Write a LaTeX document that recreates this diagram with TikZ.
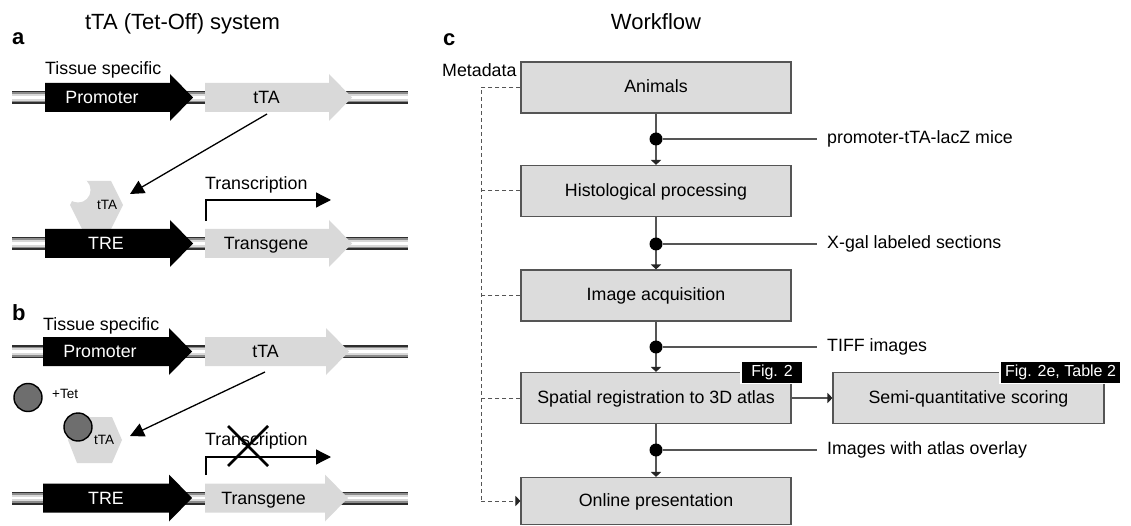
\documentclass[tikz,border=0pt]{standalone}
\usepackage{fontspec}
\setmainfont{Liberation Sans}
\usetikzlibrary{arrows.meta}

\definecolor{genegray}{HTML}{D9D9D9}
\definecolor{boxfill}{HTML}{DCDCDC}
\definecolor{linegray}{HTML}{555555}
\definecolor{tetgray}{HTML}{6E6E6E}

% striped DNA strand from x=#1 to x=#2 at height #3
\newcommand{\dnastrand}[3]{%
  \draw[line width=13pt, black!82] (#1,#3) -- (#2,#3);
  \draw[line width=10pt, black!45] (#1,#3) -- (#2,#3);
  \draw[line width=6.5pt, black!15] (#1,#3) -- (#2,#3);
  \draw[line width=2.5pt, white] (#1,#3) -- (#2,#3);
}
% block arrow for a genetic element: tail x=#1, tip x=#2, axis y=#3, colour #4
\newcommand{\genearrow}[4]{%
  \fill[#4] (#1,{#3-14.5}) -- ({#2-23},{#3-14.5}) -- ({#2-23},{#3-23.5})
    -- (#2,#3) -- ({#2-23},{#3+23.5}) -- ({#2-23},{#3+14.5})
    -- (#1,{#3+14.5}) -- cycle;
}

\tikzset{
  txt/.style={font=\fontsize{17.8}{20}\selectfont, inner sep=0pt},
  small/.style={font=\fontsize{13.5}{15}\selectfont, inner sep=0pt},
  title/.style={font=\fontsize{22}{24}\selectfont, inner sep=0pt},
  panel/.style={font=\fontsize{22}{24}\selectfont\bfseries, inner sep=0pt},
  bigarrow/.style={draw=black, line width=1.3pt, -{Triangle[length=14pt,width=14pt]}},
  stage/.style={draw=linegray, line width=1.1pt, fill=boxfill, minimum width=270pt,
    minimum height=51pt, font=\fontsize{17.8}{20}\selectfont, text height=13pt,
    text depth=2pt, inner sep=0pt},
  joint/.style={circle, fill=black, minimum size=13pt, inner sep=0pt},
  flow/.style={draw=linegray, line width=1.2pt, -{Triangle[length=5pt,width=10pt,color=black!85]}},
  feed/.style={draw=linegray, line width=1.2pt},
  note/.style={anchor=west, inner xsep=10pt, inner ysep=0pt, font=\fontsize{17.8}{20}\selectfont,
    text height=12pt, text depth=2.5pt},
  tag/.style={fill=black, draw=white, line width=1.5pt, text=white,
    font=\fontsize{16}{18}\selectfont, minimum height=22pt, inner sep=0pt,
    text height=11.5pt, text depth=3pt},
  meta/.style={draw=linegray, line width=1pt, dash pattern=on 4pt off 3pt},
}

\begin{document}
\begin{tikzpicture}[x=1pt, y=-1pt]
\useasboundingbox (0,0) rectangle (1131,526);

% ---------------- panel a ----------------
\node[title, anchor=base] (ttitle) at (182.5,30) {tTA (Tet-Off) system};
\node[panel, anchor=base west] (pa) at (12,45) {a};

\dnastrand{12}{408}{97.5}
\genearrow{45}{193}{97.5}{black}
\genearrow{205}{352}{97.5}{genegray}
\node[txt, anchor=base west] (tsa) at (45,75) {Tissue specific};
\node[txt, anchor=base, text=white] (proa) at (102,103.5) {Promoter};
\node[txt, anchor=base] (tta) at (266.5,103.5) {tTA};

% tTA protein with free binding site
\fill[genegray] (70,205) -- (82,181) -- (111,181) -- (123,205) -- (111,229) -- (82,229) -- cycle;
\fill[white] (78,190) circle[radius=12.5pt];
\node[small, anchor=base] (hexa) at (107,210) {tTA};

\coordinate (fromtta) at (267,114);
\coordinate (tohexa) at (130,194);
\draw[bigarrow] (fromtta) -- (tohexa);

\dnastrand{12}{408}{243.5}
\genearrow{45}{193}{243.5}{black}
\genearrow{205}{352}{243.5}{genegray}
\node[txt, anchor=base, text=white] (trea) at (106,249.5) {TRE};
\node[txt, anchor=base] (tga) at (266,249.5) {Transgene};

\node[txt, anchor=base west] (trna) at (205,190) {Transcription};
\coordinate (tra0) at (206,221);
\coordinate (tra1) at (206,200);
\coordinate (tra2) at (331,200);
\draw[bigarrow, -{Triangle[length=15pt,width=15pt]}] (tra0) -- (tra1) -- (tra2);

% ---------------- panel b ----------------
\node[panel, anchor=base west] (pb) at (12,320) {b};

\dnastrand{12}{408}{351.5}
\genearrow{43}{192}{351.5}{black}
\genearrow{205}{349}{351.5}{genegray}
\node[txt, anchor=base west] (tsb) at (43,330) {Tissue specific};
\node[txt, anchor=base, text=white] (prob) at (100,357.5) {Promoter};
\node[txt, anchor=base] (ttb) at (265.5,357.5) {tTA};

% free tetracycline
\filldraw[fill=tetgray, draw=black, line width=1.4pt] (28,397.5) circle[radius=14pt];
\node[small, anchor=base west] (tet) at (52,398) {+Tet};

% tTA protein blocked by tetracycline
\fill[genegray] (68,440) -- (77,417) -- (112,417) -- (122,440) -- (112,463) -- (77,463) -- cycle;
\filldraw[fill=tetgray, draw=black, line width=1.4pt] (78,427) circle[radius=14pt];
\node[small, anchor=base] (hexb) at (104,444) {tTA};

\coordinate (fromttb) at (265,372);
\coordinate (tohexb) at (130,436);
\draw[bigarrow] (fromttb) -- (tohexb);

\dnastrand{12}{408}{498}
\genearrow{43}{192}{498}{black}
\genearrow{205}{348}{498}{genegray}
\node[txt, anchor=base, text=white] (treb) at (106,504) {TRE};
\node[txt, anchor=base] (tgb) at (263.5,504) {Transgene};

\node[txt, anchor=base west] (trnb) at (205,445) {Transcription};
\coordinate (trb0) at (206,475);
\coordinate (trb1) at (206,457);
\coordinate (trb2) at (331,457);
\draw[bigarrow, -{Triangle[length=15pt,width=15pt]}] (trb0) -- (trb1) -- (trb2);
\coordinate (xa) at (228,426);
\coordinate (xb) at (268,466);
\coordinate (xc) at (268,426);
\coordinate (xd) at (228,466);
\draw[line width=2.6pt] (xa) -- (xb);
\draw[line width=2.6pt] (xc) -- (xd);

% ---------------- panel c ----------------
\node[title, anchor=base] (wtitle) at (656,30) {Workflow};
\node[panel, anchor=base west] (pc) at (443,46) {c};
\node[txt, anchor=base west] (meta) at (442,77) {Metadata};

\node[stage] (s1) at (656,87.5) {Animals};
\node[stage] (s2) at (656,191) {Histological processing};
\node[stage] (s3) at (656,295.5) {Image acquisition};
\node[stage] (s4) at (656,398) {Spatial registration to 3D atlas};
\node[stage, minimum height=47pt] (s5) at (656,501) {Online presentation};
\node[stage, minimum width=271pt] (s6) at (968.5,398) {Semi-quantitative scoring};

\draw[flow] (s1) -- (s2);
\draw[flow] (s2) -- (s3);
\draw[flow] (s3) -- (s4);
\draw[flow] (s4) -- (s5);
\draw[flow] (s4) -- (s6);

\node[joint] (j1) at (656,139) {};
\node[joint] (j2) at (656,244) {};
\node[joint] (j3) at (656,347) {};
\node[joint] (j4) at (656,450) {};

\node[note] (n1) at (817,139) {promoter-tTA-lacZ mice};
\node[note] (n2) at (817,244) {X-gal labeled sections};
\node[note] (n3) at (817,347) {TIFF images};
\node[note] (n4) at (817,450) {Images with atlas overlay};
\draw[feed] (j1) -- (n1);
\draw[feed] (j2) -- (n2);
\draw[feed] (j3) -- (n3);
\draw[feed] (j4) -- (n4);

\node[tag, minimum width=62pt] (f2) at (772,372.5) {Fig. 2};
\node[tag, minimum width=121pt] (f2e) at (1060.5,372.5) {Fig. 2e, Table 2};

% metadata collected at every stage
\coordinate (mtop) at (481,87.5);
\draw[meta] (s1.west) -- (mtop) -- (mtop |- s5.west);
\draw[meta, -{Triangle[length=5pt,width=10pt,color=black!85]}] (mtop |- s5.west) -- (s5.west);
\draw[meta] (s2.west) -- (s2.west -| mtop);
\draw[meta] (s3.west) -- (s3.west -| mtop);
\draw[meta] (s4.west) -- (s4.west -| mtop);
\end{tikzpicture}
\end{document}
